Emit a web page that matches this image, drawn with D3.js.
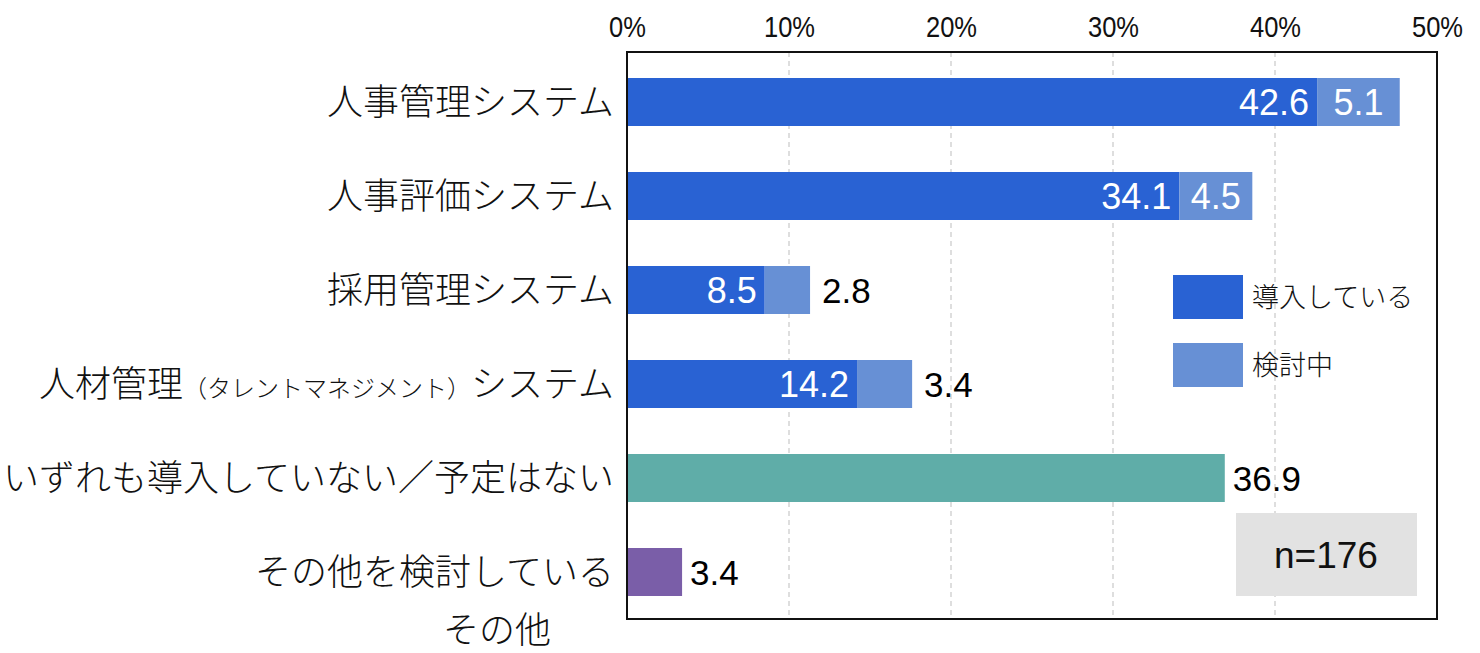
<!DOCTYPE html>
<html><head>
<meta charset="utf-8">
<script src="https://d3js.org/d3.v7.min.js"></script>
<style>
  body { margin: 0; background: #fff; }
  .jp { font-family: "Noto Sans CJK JP", sans-serif; font-weight: 300; }
  .num { font-family: "Liberation Sans", Arial, sans-serif; }
  .tick text { font-family: "Liberation Sans", sans-serif; }
</style>
</head>
<body>
<svg id="plot" width="1480" height="653"></svg>
<script>
  // categories (top to bottom)
  const categories = ["人事管理システム", "人事評価システム", "採用管理システム",
                      "人材管理システム", "いずれも導入していない／予定はない", "その他"];
  // stacked series: 導入している / 検討中
  const adopted     = [42.6, 34.1, 8.5, 14.2, null, null];
  const considering = [5.1, 4.5, 2.8, 3.4, null, null];
  // single bars
  const single      = [null, null, null, null, 36.9, 3.4];
  const singleColors = [null, null, null, null, "#5fada8", "#7a5ea8"];
  const legendLabels = ["導入している", "検討中"];
  const xTicks = [0, 10, 20, 30, 40, 50];

  const svg = d3.select("svg#plot");
  const box = {left: 627, right: 1437, top: 52, bottom: 619};
  const dark = "#2962d3", light = "#6790d5";

  const x = d3.scaleLinear().domain([0, 50]).range([627, 1437]);
  const y = d3.scalePoint().domain(categories).range([55, 619]).padding(0.5);
  const barH = 48;

  // gridlines
  svg.append("g").selectAll("line")
     .data(xTicks.slice(1, -1)).join("line")
     .attr("x1", d => x(d)).attr("x2", d => x(d))
     .attr("y1", box.top).attr("y2", box.bottom)
     .attr("stroke", "#c8c8c8").attr("stroke-width", 1.2)
     .attr("stroke-dasharray", "5,4");

  // top axis (slightly condensed labels)
  const axis = svg.append("g")
     .attr("transform", "translate(0,37)")
     .call(d3.axisTop(x).tickValues(xTicks).tickFormat(d => d + "%").tickSize(0).tickPadding(0));
  axis.select(".domain").remove();
  axis.selectAll("text").attr("font-size", 29).attr("fill", "#111")
      .attr("transform", "scale(0.88,1)");

  const bars = svg.append("g");
  categories.forEach((c, i) => {
    const cy = y(c);
    if (adopted[i] != null) {
      const a = adopted[i], b = considering[i];
      bars.append("rect").attr("x", x(0)).attr("y", cy - barH / 2)
          .attr("width", x(a) - x(0)).attr("height", barH).attr("fill", dark);
      bars.append("rect").attr("x", x(a)).attr("y", cy - barH / 2)
          .attr("width", x(a + b) - x(a)).attr("height", barH).attr("fill", light);
      bars.append("text").attr("class", "num")
          .attr("x", x(a) - 8).attr("y", cy).attr("dy", "0.36em")
          .attr("text-anchor", "end").attr("font-size", 36).attr("fill", "#fff")
          .text(a.toFixed(1));
      if (b >= 4) {
        bars.append("text").attr("class", "num")
            .attr("x", (x(a) + x(a + b)) / 2).attr("y", cy).attr("dy", "0.36em")
            .attr("text-anchor", "middle").attr("font-size", 36).attr("fill", "#fff")
            .text(b.toFixed(1));
      } else {
        bars.append("text").attr("class", "num")
            .attr("x", x(a + b) + 12).attr("y", cy).attr("dy", "0.36em")
            .attr("font-size", 35).attr("fill", "#000")
            .text(b.toFixed(1));
      }
    } else {
      const v = single[i];
      bars.append("rect").attr("x", x(0)).attr("y", cy - barH / 2)
          .attr("width", x(v) - x(0)).attr("height", barH).attr("fill", singleColors[i]);
      bars.append("text").attr("class", "num")
          .attr("x", x(v) + 8).attr("y", cy).attr("dy", "0.36em")
          .attr("font-size", 35).attr("fill", "#000")
          .text(v.toFixed(1));
    }
  });

  // plot frame
  svg.append("rect").attr("x", box.left).attr("y", box.top)
     .attr("width", box.right - box.left).attr("height", box.bottom - box.top)
     .attr("fill", "none").attr("stroke", "#111").attr("stroke-width", 2);

  // category labels
  const labels = svg.append("g").attr("class", "jp").attr("fill", "#111");
  categories.forEach((c, i) => {
    const t = labels.append("text").attr("x", 614).attr("y", y(c))
        .attr("dy", "0.36em").attr("text-anchor", "end").attr("font-size", 36);
    if (i === 3) {
      t.append("tspan").text("人材管理");
      t.append("tspan").attr("font-size", 24).text("（タレントマネジメント）");
      t.append("tspan").text("システム");
    } else if (i === 5) {
      t.text("その他を検討している");
      labels.append("text").attr("x", 497).attr("y", y(c) + 58)
          .attr("dy", "0.36em").attr("text-anchor", "middle").attr("font-size", 36)
          .text("その他");
    } else {
      t.text(c);
    }
  });

  // legend
  const legend = svg.append("g").attr("class", "jp");
  [dark, light].forEach((col, i) => {
    legend.append("rect").attr("x", 1173).attr("y", 275 + i * 68)
          .attr("width", 70).attr("height", 44).attr("fill", col);
    legend.append("text").attr("x", 1252).attr("y", 297 + i * 68)
          .attr("dy", "0.36em").attr("font-size", 27).attr("fill", "#111")
          .text(legendLabels[i]);
  });

  // sample size
  svg.append("rect").attr("x", 1236).attr("y", 513).attr("width", 181).attr("height", 83)
     .attr("fill", "#e2e2e2");
  svg.append("text").attr("class", "num").attr("x", 1326).attr("y", 555)
     .attr("dy", "0.36em").attr("text-anchor", "middle").attr("font-size", 37)
     .attr("fill", "#111").text("n=176");
</script>
</body></html>
